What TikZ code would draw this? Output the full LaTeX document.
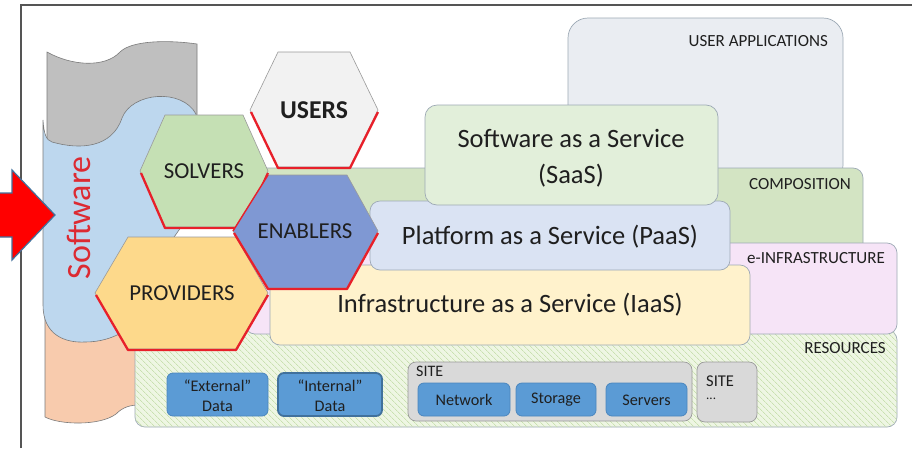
\documentclass[tikz,border=0pt]{standalone}
\usepackage{fontspec}
\setmainfont{Carlito}
\usetikzlibrary{patterns.meta}
\definecolor{txt}{HTML}{1F1F1F}
\definecolor{frame}{HTML}{555555}
\definecolor{edgegray}{HTML}{9A9A9A}
\definecolor{boxedge}{HTML}{9DA9B5}
\definecolor{pgray}{HTML}{BFBFBF}
\definecolor{pblue}{HTML}{BDD7EE}
\definecolor{psalmon}{HTML}{F8CBAD}
\definecolor{uapp}{HTML}{EAEDF2}
\definecolor{comp}{HTML}{D3E4C3}
\definecolor{einfra}{HTML}{F6E4F7}
\definecolor{res}{HTML}{EEF6E3}
\definecolor{reshatch}{HTML}{C9E0B0}
\definecolor{saas}{HTML}{E2EFDA}
\definecolor{paas}{HTML}{DAE3F3}
\definecolor{iaas}{HTML}{FFF2CC}
\definecolor{databox}{HTML}{5B9BD5}
\definecolor{dataedge}{HTML}{4A86BE}
\definecolor{dataedgedark}{HTML}{41719C}
\definecolor{sitebox}{HTML}{D9D9D9}
\definecolor{hexusers}{HTML}{F2F2F2}
\definecolor{hexsolvers}{HTML}{C5E0B4}
\definecolor{hexenablers}{HTML}{7F98D3}
\definecolor{hexproviders}{HTML}{FDD98B}
\definecolor{hexred}{HTML}{E8202A}
\definecolor{swred}{HTML}{DC2A32}
\definecolor{arrowedge}{HTML}{41719C}
\tikzset{
  layerbox/.style={draw=boxedge, line width=0.7pt, rounded corners=10pt},
  smallcap/.style={text=txt, font=\fontsize{17}{20}\selectfont, inner sep=0pt},
  biglabel/.style={text=txt, font=\fontsize{26.5}{36}\selectfont, inner sep=0pt, align=center},
  hexlabel/.style={text=txt, font=\fontsize{22.8}{26}\selectfont, inner sep=0pt},
  hexshape/.style={draw=edgegray, line width=0.6pt},
  hexshadow/.style={draw=hexred, line width=2.3pt, line join=round},
  datab/.style={draw=dataedge, fill=databox, line width=0.8pt, rounded corners=6pt},
  datalabel/.style={text=txt, font=\fontsize{16.2}{20.5}\selectfont, inner sep=0pt, align=center},
  pillar/.style={draw=edgegray!80!black, line width=0.6pt}
}
\begin{document}
\begin{tikzpicture}[x=1pt,y=-1pt]
\useasboundingbox (0,0) rectangle (912,448);
\fill[white] (0,0) rectangle (912,448);
% frame
\draw[frame, line width=1.3pt] (21,448) -- (21,5) -- (913,5);

% pillar
\draw[pillar, fill=pgray] (47,52) .. controls (72,66) and (105,68) .. (120,52) .. controls (132,40) and (170,40) .. (197,44) -- (197,150) -- (47,150) -- cycle;
\draw[pillar, fill=psalmon] (45,300) -- (45,417) .. controls (60,425) and (100,426) .. (116,414) .. controls (123,407) and (130,405) .. (140,405) -- (140,300) -- cycle;
\draw[pillar, fill=pblue] (43,120) .. controls (44,134) and (46,140) .. (52,142) .. controls (80,150) and (112,148) .. (122,118) .. controls (132,92) and (182,88) .. (196,114) -- (200,200) -- (130,300) -- (121,333) .. controls (112,338) and (100,342) .. (85,342) .. controls (65,343) and (43,335) .. (43,305) -- cycle;
\node[rotate=90, text=swred, font=\fontsize{34}{36}\selectfont, inner sep=0pt] (software) at (79,218) {Software};

% arrow
\draw[fill=red, draw=arrowedge, line width=1.2pt, line join=miter] (-3,193) -- (12,193) -- (12,170) -- (55,215) -- (12,260) -- (12,237) -- (-3,237) -- cycle;

% layer boxes
\draw[layerbox, fill=uapp, rounded corners=20pt] (568,18) rectangle (843,185);
\node[smallcap, anchor=east] (uapplbl) at (828,41) {USER APPLICATIONS};
\draw[layerbox, fill=comp] (255,168) rectangle (863,262);
\node[smallcap] (complbl) at (800,184) {COMPOSITION};
\draw[layerbox, fill=res, postaction={pattern={Lines[angle=-45,distance=4pt,line width=0.7pt]}, pattern color=reshatch}] (135,330) rectangle (897,427);
\node[smallcap] (reslbl) at (845,348) {RESOURCES};
\draw[layerbox, fill=einfra] (245,243) rectangle (897,334);
\node[smallcap] (einflbl) at (816,258) {e-INFRASTRUCTURE};
\draw[layerbox, fill=iaas] (270,265) rectangle (750,345);
\node[biglabel] (iaaslbl) at (510,305) {Infrastructure as a Service (IaaS)};
\draw[layerbox, fill=paas] (370,201) rectangle (730,270);
\node[biglabel] (paaslbl) at (550,237) {Platform as a Service (PaaS)};
\draw[layerbox, fill=saas, rounded corners=12pt] (425,105) rectangle (718,205);
\node[biglabel] (saaslbl) at (571,158) {Software as a Service\\(SaaS)};

% resources contents
\draw[datab] (167,373) rectangle (268,416);
\node[datalabel] (ext) at (217.5,395.5) {“External”\\Data};
\draw[datab, draw=dataedgedark, line width=1.8pt] (278,373) rectangle (382,416);
\node[datalabel] (int) at (330,395.5) {“Internal”\\Data};
\draw[draw=edgegray, fill=sitebox, line width=0.7pt, rounded corners=8pt] (408,362) rectangle (692,421);
\node[smallcap, anchor=west, font=\fontsize{16}{18}\selectfont] (site1) at (416,371) {SITE};
\draw[datab] (418,383) rectangle (510,416);
\node[datalabel] (net) at (464,400) {Network};
\draw[datab] (516,383) rectangle (596,416);
\node[datalabel] (sto) at (556,400) {Storage};
\draw[datab] (606,383) rectangle (687,416);
\node[datalabel] (srv) at (646.5,400) {Servers};
\draw[draw=edgegray, fill=sitebox, line width=0.7pt, rounded corners=8pt] (697,362) rectangle (757,422);
\node[smallcap, anchor=west, font=\fontsize{16.5}{18}\selectfont] (site2) at (706,381) {SITE};
\node[smallcap, anchor=west, font=\fontsize{13}{14}\selectfont] (site2dots) at (706,399) {...};

% hexagons
% SOLVERS
\draw[hexshape, fill=hexsolvers] (140,171) -- (165,115) -- (243,115) -- (268,171) -- (243,227) -- (165,227) -- cycle;
\draw[hexshadow] (141,173) -- (165,228) -- (243,228) -- (268,173);
\node[hexlabel] (solvers) at (204,171) {SOLVERS};
% USERS
\draw[hexshape, fill=hexusers] (250,110) -- (278,52) -- (350,52) -- (378,110) -- (350,167) -- (278,167) -- cycle;
\draw[hexshadow] (251,112) -- (278,168) -- (350,168) -- (378,112);
\node[hexlabel, font=\fontsize{25.7}{28}\selectfont\bfseries] (users) at (314,110) {USERS};
% PROVIDERS
\draw[hexshape, fill=hexproviders] (95,293) -- (128,237) -- (236,237) -- (268,293) -- (236,349) -- (128,349) -- cycle;
\draw[hexshadow] (96,295) -- (128,350) -- (236,350) -- (268,295);
\node[hexlabel] (providers) at (182,293) {PROVIDERS};
% ENABLERS
\draw[hexshape, fill=hexenablers] (233,231) -- (268,175) -- (347,175) -- (378,231) -- (347,288) -- (268,288) -- cycle;
\draw[hexshadow, line width=1.4pt] (268,175) -- (233,231);
\draw[hexshadow] (234,233) -- (268,289) -- (347,289) -- (378,233);
\node[hexlabel] (enablers) at (305,231) {ENABLERS};
\end{tikzpicture}
\end{document}
